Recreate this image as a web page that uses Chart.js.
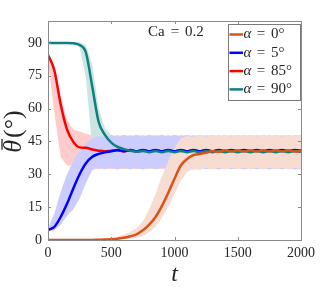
<!DOCTYPE html>
<html>
<head>
<meta charset="utf-8">
<script src="https://cdn.jsdelivr.net/npm/chart.js@4.4.1/dist/chart.umd.min.js"></script>
<style>
    html, body { margin: 0; padding: 0; background: #fff; }
    #wrap { position: relative; width: 332px; height: 291px; }
</style>
</head>
<body>
<div id="wrap"><canvas id="thetaChart" width="332" height="291"></canvas></div>
<script>
// time samples
const T = [0, 50, 100, 150, 200, 250, 300, 350, 400, 450, 500, 550, 600, 650, 700, 750, 800, 850, 900, 950,
    1000, 1050, 1100, 1150, 1200, 1250, 1300, 1350, 1400, 1450, 1500, 1550, 1600, 1650, 1700, 1750, 1800, 1850, 1900, 1950, 2000];

const xTicks = [0, 500, 1000, 1500, 2000];
const yTicks = [0, 15, 30, 45, 60, 75, 90];

const seriesNames = ['0°', '5°', '85°', '90°'];
const seriesColors = ['#D95319', '#0000FF', '#FF0000', '#0E8080'];
const bandColors = ['#F7DDD1', '#CCCCFF', '#FFCCCC', '#CCE5E3'];

// alpha = 0
const mean0 = [0, 0, 0, 0, 0, 0, 0, 0, 0.1, 0.2, 0.3, 0.6, 1, 1.7, 2.6, 4.4, 7, 10.5, 15.5, 21.5,
    28, 34, 37, 38.8, 39.3, 39.8, 40.6, 40.3, 41, 40.4, 41, 40.4, 41, 40.4, 41, 40.4, 41, 40.4, 41, 40.4, 40.8];
const hi0 = [0.4, 0.4, 0.4, 0.4, 0.4, 0.4, 0.4, 0.5, 0.6, 0.8, 1.1, 1.6, 2.4, 3.6, 5.5, 8.5, 14, 21, 29, 36,
    42, 46.5, 47.5, 47, 48, 47.2, 48, 47.3, 48, 47.2, 48, 47.3, 47.9, 47.2, 48, 47.3, 48, 47.2, 47.9, 47.3, 47.8];
const lo0 = [0, 0, 0, 0, 0, 0, 0, 0, 0, 0, 0, 0.1, 0.3, 0.6, 1, 1.8, 3.5, 6, 10, 15,
    21, 27, 31, 32.5, 32, 33, 32.2, 33, 32.2, 33, 32.3, 33, 32.2, 33, 32.2, 33, 32.3, 33, 32.2, 33, 32.4];

// alpha = 5
const mean5 = [4.6, 6, 10.5, 16.5, 23.5, 30, 35, 38, 39.3, 40, 40.5, 41.1, 40.5, 41.1, 40.5, 41.1, 40.5, 41.1, 40.5, 41.1,
    40.5, 41.1, 40.5, 41.1, 40.5, 41.1, 40.5, 41.1, 40.5, 41.1, 40.5, 41.1, 40.5, 41.1, 40.5, 41.1, 40.5, 41.1, 40.5, 41.1, 40.7];
const hi5 = [5.5, 12, 22, 30, 36, 41, 44, 46.5, 47.5, 47, 48, 47.2, 48, 47.3, 48, 47.2, 47.9, 47.3, 48, 47.2,
    48, 47.3, 47.9, 47.2, 48, 47.3, 48, 47.2, 47.9, 47.3, 48, 47.2, 48, 47.3, 47.9, 47.2, 48, 47.3, 48, 47.2, 47.8];
const lo5 = [4, 4.5, 7, 11, 14, 19, 26, 32, 33, 32.3, 33, 32.2, 33, 32.3, 33, 32.2, 33, 32.3, 33, 32.2,
    33, 32.3, 33, 32.2, 33, 32.3, 33, 32.2, 33, 32.3, 33, 32.2, 33, 32.3, 33, 32.2, 33, 32.3, 33, 32.2, 32.6];

// alpha = 85
const mean85 = [84.6, 77.5, 62, 50.5, 44.8, 42.3, 42.1, 41.3, 40.8, 40.5, 40.7, 41, 40.5, 41, 40.5, 41, 40.5, 41, 40.5, 41,
    40.5, 41, 40.5, 41, 40.5, 41, 40.5, 41, 40.5, 41, 40.5, 41, 40.5, 41, 40.5, 41, 40.5, 41, 40.5, 41, 40.7];
const hi85 = [85.5, 79.5, 66, 55, 50.5, 49.5, 48.5, 48, 47.5, 48, 47.3, 48, 47.3, 48, 47.3, 48, 47.3, 48, 47.3, 48,
    47.3, 48, 47.3, 48, 47.3, 48, 47.3, 48, 47.3, 48, 47.3, 48, 47.3, 48, 47.3, 48, 47.3, 48, 47.3, 48, 47.7];
const lo85 = [82, 58, 38, 34, 34, 33.5, 32.5, 33, 32.3, 33, 32.3, 33, 32.3, 33, 32.3, 33, 32.3, 33, 32.3, 33,
    32.3, 33, 32.3, 33, 32.3, 33, 32.3, 33, 32.3, 33, 32.3, 33, 32.3, 33, 32.3, 33, 32.3, 33, 32.3, 33, 32.5];

// alpha = 90
const mean90 = [90, 90, 90, 90, 89.8, 89, 85.5, 70, 54, 48, 44.5, 42.5, 41.5, 40.8, 40.3, 40.6, 40.1, 40.6, 40.1, 40.6,
    40.1, 40.6, 40.1, 40.6, 40.1, 40.6, 40.1, 40.6, 40.1, 40.6, 40.1, 40.6, 40.1, 40.6, 40.1, 40.6, 40.1, 40.6, 40.1, 40.6, 40.3];
const hi90 = [90.3, 90.3, 90.3, 90.3, 90.3, 90.3, 89, 80, 60, 51, 48, 47.3, 48, 47.3, 48, 47.3, 48, 47.3, 48, 47.3,
    48, 47.3, 48, 47.3, 48, 47.3, 48, 47.3, 48, 47.3, 48, 47.3, 48, 47.3, 48, 47.3, 48, 47.3, 48, 47.3, 47.6];
const lo90 = [89.7, 89.7, 89.7, 89.7, 89.5, 88, 74, 42, 33, 32.4, 33, 32.3, 33, 32.3, 33, 32.3, 33, 32.3, 33, 32.3,
    33, 32.3, 33, 32.3, 33, 32.3, 33, 32.3, 33, 32.3, 33, 32.3, 33, 32.3, 33, 32.3, 33, 32.3, 33, 32.3, 32.6];

const means = [mean0, mean5, mean85, mean90];
const his = [hi0, hi5, hi85, hi90];
const los = [lo0, lo5, lo85, lo90];

const SERIF = '"Liberation Serif", "DejaVu Serif", serif';
const AXIS_GRAY = '#8a8a8a';
const TEXT = '#262626';

function pts(arr) {
    return arr.map((v, i) => ({ x: T[i], y: v }));
}

// first dataset is drawn last (on top)
const datasets = [];
[0, 3, 1, 2].forEach(k => {
    datasets.push({
        data: pts(means[k]),
        borderColor: seriesColors[k],
        borderWidth: 2.5,
        pointRadius: 0,
        cubicInterpolationMode: 'monotone',
        fill: false
    });
});
// bands: orange over blue over teal over red
[0, 1, 3, 2].forEach(k => {
    datasets.push({
        data: pts(his[k]),
        borderWidth: 0,
        pointRadius: 0,
        backgroundColor: bandColors[k],
        fill: '+1'
    });
    datasets.push({
        data: pts(los[k]),
        borderWidth: 0,
        pointRadius: 0,
        fill: false
    });
});

const frame = {
    id: 'frame',
    afterDatasetsDraw(chart) {
        const { ctx, chartArea: a, scales } = chart;
        ctx.save();
        ctx.strokeStyle = AXIS_GRAY;
        ctx.lineWidth = 1;
        ctx.strokeRect(Math.round(a.left) + 0.5, Math.round(a.top) + 0.5,
            Math.round(a.right - a.left), Math.round(a.bottom - a.top));
        ctx.beginPath();
        xTicks.forEach(v => {
            const px = Math.round(scales.x.getPixelForValue(v)) + 0.5;
            ctx.moveTo(px, a.bottom); ctx.lineTo(px, a.bottom - 3);
            ctx.moveTo(px, a.top); ctx.lineTo(px, a.top + 3);
        });
        yTicks.forEach(v => {
            const py = Math.round(scales.y.getPixelForValue(v)) + 0.5;
            ctx.moveTo(a.left, py); ctx.lineTo(a.left + 3, py);
            ctx.moveTo(a.right, py); ctx.lineTo(a.right - 3, py);
        });
        ctx.stroke();
        ctx.restore();
    },
    afterDraw(chart) {
        const { ctx, chartArea: a } = chart;
        ctx.save();
        ctx.fillStyle = TEXT;
        ctx.textBaseline = 'middle';

        // y axis title: theta-bar (degrees)
        ctx.save();
        ctx.translate(14, (a.top + a.bottom) / 2 + 1);
        ctx.rotate(-Math.PI / 2);
        ctx.font = 'italic 26px ' + SERIF;
        const wTh = ctx.measureText('θ').width;
        ctx.font = '26px ' + SERIF;
        const wRest = ctx.measureText('(°)').width;
        const x0 = -(wTh + wRest + 2) / 2;
        ctx.font = 'italic 26px ' + SERIF;
        ctx.textAlign = 'left';
        ctx.fillText('θ', x0, 0);
        ctx.strokeStyle = TEXT;
        ctx.lineWidth = 1.3;
        ctx.beginPath();
        ctx.moveTo(x0 + 3, -12); ctx.lineTo(x0 + wTh + 1, -12);
        ctx.stroke();
        ctx.font = '26px ' + SERIF;
        ctx.fillText('(°)', x0 + wTh + 2, 0);
        ctx.restore();

        // Ca label
        ctx.font = '15px ' + SERIF;
        ctx.textAlign = 'left';
        ctx.fillText('Ca', a.left + 100, a.top + 11);
        ctx.textAlign = 'center';
        ctx.fillText('=', a.left + 127, a.top + 11);
        ctx.textAlign = 'left';
        ctx.fillText('0.2', a.left + 137, a.top + 11);

        // legend box
        const bx = a.right - 73, by = a.top + 3, bw = 72, bh = 76;
        ctx.fillStyle = '#fff';
        ctx.fillRect(bx, by, bw, bh);
        ctx.strokeStyle = '#7a7a7a';
        ctx.lineWidth = 1;
        ctx.strokeRect(Math.round(bx) + 0.5, Math.round(by) + 0.5, bw, bh);
        seriesNames.forEach((name, i) => {
            const y = by + 10.5 + i * 18.3;
            ctx.strokeStyle = seriesColors[i];
            ctx.lineWidth = 2.5;
            ctx.beginPath();
            ctx.moveTo(bx + 1.5, y); ctx.lineTo(bx + 15, y);
            ctx.stroke();
            ctx.fillStyle = TEXT;
            ctx.textAlign = 'left';
            ctx.font = 'italic 15px ' + SERIF;
            ctx.fillText('α', bx + 15.5, y);
            ctx.font = '15px ' + SERIF;
            ctx.textAlign = 'center';
            ctx.fillText('=', bx + 33, y);
            ctx.textAlign = 'left';
            ctx.fillText(name, bx + 43, y);
        });
        ctx.restore();
    }
};

new Chart(document.getElementById('thetaChart'), {
    type: 'line',
    data: { datasets: datasets },
    options: {
        responsive: false,
        animation: false,
        layout: { padding: { left: 0, top: 21, right: 31, bottom: 0 } },
        plugins: {
            legend: { display: false },
            tooltip: { enabled: false },
            filler: { drawTime: 'beforeDatasetsDraw' }
        },
        scales: {
            x: {
                type: 'linear',
                min: 0,
                max: 2000,
                afterBuildTicks: s => { s.ticks = xTicks.map(v => ({ value: v })); },
                afterFit: s => { s.height = 51; },
                grid: { display: false, drawTicks: false },
                border: { display: false },
                ticks: { color: TEXT, padding: 5, font: { family: SERIF, size: 14 }, maxRotation: 0,
                    callback: v => String(v) },
                title: { display: true, text: 't', color: TEXT, padding: { top: 0, bottom: 2 },
                    font: { family: SERIF, size: 24, style: 'italic' } }
            },
            y: {
                min: 0,
                max: 100,
                afterBuildTicks: s => { s.ticks = yTicks.map(v => ({ value: v })); },
                afterFit: s => { s.width = 48; },
                grid: { display: false, drawTicks: false },
                border: { display: false },
                ticks: { color: TEXT, padding: 6, font: { family: SERIF, size: 14 },
                    callback: v => String(v) }
            }
        }
    },
    plugins: [frame]
});
</script>
</body>
</html>
